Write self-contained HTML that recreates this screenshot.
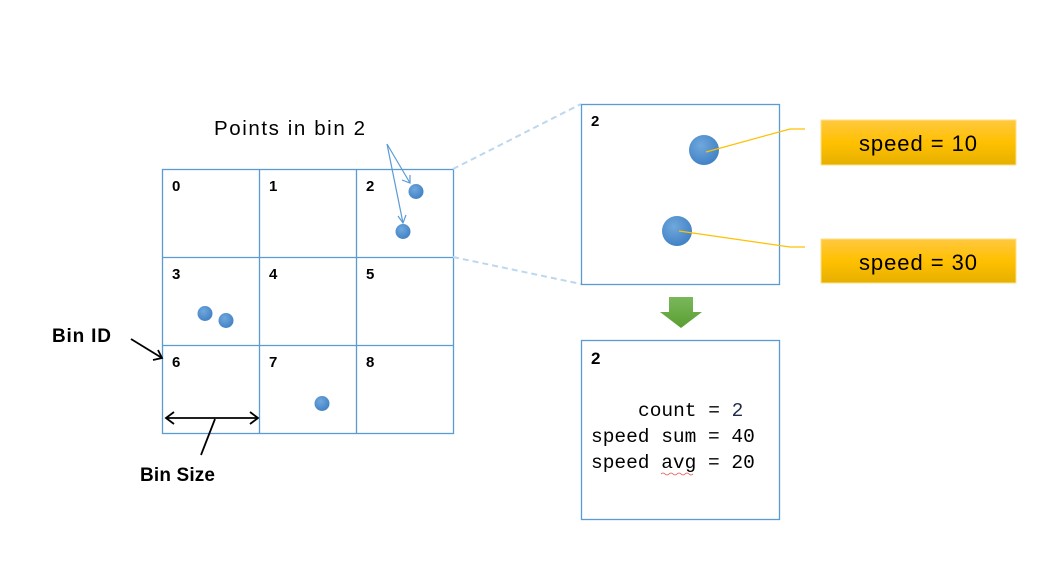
<!DOCTYPE html>
<html><head><meta charset="utf-8"><style>
html,body{margin:0;padding:0;background:#fff;}
svg{display:block;}
.b{font-family:"Liberation Sans",sans-serif;font-weight:bold;font-size:15px;fill:#000;}
.m{font-family:"Liberation Mono",monospace;font-size:19.5px;fill:#000;}
</style></head><body>
<svg width="1064" height="564" viewBox="0 0 1064 564" xmlns="http://www.w3.org/2000/svg">
<defs>
<radialGradient id="dot" cx="40%" cy="35%" r="70%">
<stop offset="0" stop-color="#6fa8dc"/><stop offset="1" stop-color="#3f7fc4"/>
</radialGradient>
<linearGradient id="gold" x1="0" y1="0" x2="0" y2="1">
<stop offset="0" stop-color="#ffc840"/><stop offset="0.5" stop-color="#ffc000"/><stop offset="1" stop-color="#e6b000"/>
</linearGradient>
<linearGradient id="grn" x1="0" y1="0" x2="0" y2="1">
<stop offset="0" stop-color="#7ab85a"/><stop offset="1" stop-color="#5a9e32"/>
</linearGradient>
</defs>
<g stroke="#5b9bd5" stroke-width="1.3" fill="none">
<rect x="162.5" y="169.5" width="291" height="264"/>
<line x1="259.5" y1="169" x2="259.5" y2="433"/>
<line x1="356.5" y1="169" x2="356.5" y2="433"/>
<line x1="162" y1="257.5" x2="453" y2="257.5"/>
<line x1="162" y1="345.5" x2="453" y2="345.5"/>
</g>
<g class="b">
<text x="172" y="191">0</text><text x="269" y="191">1</text><text x="366" y="191">2</text>
<text x="172" y="279">3</text><text x="269" y="279">4</text><text x="366" y="279">5</text>
<text x="172" y="367">6</text><text x="269" y="367">7</text><text x="366" y="367">8</text>
</g>
<g fill="url(#dot)">
<circle cx="416" cy="191.5" r="7.5"/><circle cx="403" cy="231.5" r="7.5"/>
<circle cx="205" cy="313.5" r="7.5"/><circle cx="226" cy="320.5" r="7.5"/>
<circle cx="322" cy="403.5" r="7.5"/>
</g>
<text x="214" y="135" font-family="Liberation Sans,sans-serif" font-size="20.5" fill="#000" textLength="151">Points in bin 2</text>
<g stroke="#5b9bd5" stroke-width="1.2" fill="none">
<line x1="387" y1="144" x2="410" y2="183"/><line x1="387" y1="144" x2="403" y2="223"/>
<polyline points="402,180 410,183 410,175"/><polyline points="398,216 403,223 406,215"/>
</g>
<g stroke="#bdd7ee" stroke-width="2" stroke-dasharray="6,4">
<line x1="453" y1="169" x2="581" y2="104"/><line x1="453" y1="257" x2="581" y2="284"/>
</g>
<text x="52" y="342" font-family="Liberation Sans,sans-serif" font-weight="bold" font-size="19" textLength="59">Bin ID</text>
<g stroke="#000" stroke-width="1.8" fill="none">
<line x1="131" y1="339" x2="162" y2="358"/><polyline points="153,360 162,358 158,350"/>
<line x1="166" y1="418" x2="258" y2="418"/>
<polyline points="174,412 166,418 174,424"/><polyline points="250,412 258,418 250,424"/>
<line x1="215" y1="419" x2="201" y2="455"/>
</g>
<text x="140" y="481" font-family="Liberation Sans,sans-serif" font-weight="bold" font-size="19" textLength="75">Bin Size</text>
<rect x="581.5" y="104.5" width="198" height="180" fill="none" stroke="#5b9bd5" stroke-width="1.3"/>
<text x="591" y="126" class="b">2</text>
<circle cx="704" cy="150" r="15" fill="url(#dot)"/>
<circle cx="677" cy="231" r="15" fill="url(#dot)"/>
<g stroke="#ffc000" stroke-width="1.2" fill="none">
<polyline points="706,152 790,129 805,129"/>
<polyline points="679,231 790,247 805,247"/>
</g>
<rect x="821" y="120" width="195" height="45" fill="url(#gold)" stroke="#ffe08a" stroke-width="1"/>
<rect x="821" y="239" width="195" height="44" fill="url(#gold)" stroke="#ffe08a" stroke-width="1"/>
<text x="859" y="151" font-family="Liberation Sans,sans-serif" font-size="22" textLength="118">speed = 10</text>
<text x="859" y="270" font-family="Liberation Sans,sans-serif" font-size="22" textLength="118">speed = 30</text>
<polygon points="669,297 693,297 693,312 702,312 681,328 660,312 669,312" fill="url(#grn)"/>
<rect x="581.5" y="340.5" width="198" height="179" fill="none" stroke="#5b9bd5" stroke-width="1.3"/>
<text x="591" y="364" font-family="Liberation Sans,sans-serif" font-weight="bold" font-size="17">2</text>
<text x="638" y="416" class="m">count = <tspan fill="#1f2a44">2</tspan></text>
<text x="591" y="442" class="m">speed sum = 40</text>
<text x="591" y="468" class="m">speed avg = 20</text>
<path d="M661 474 q2 -2 4 0 t4 0 t4 0 t4 0 t4 0 t4 0 t4 0 t4 0" stroke="#e05050" stroke-width="0.8" fill="none"/>
</svg>
</body></html>
